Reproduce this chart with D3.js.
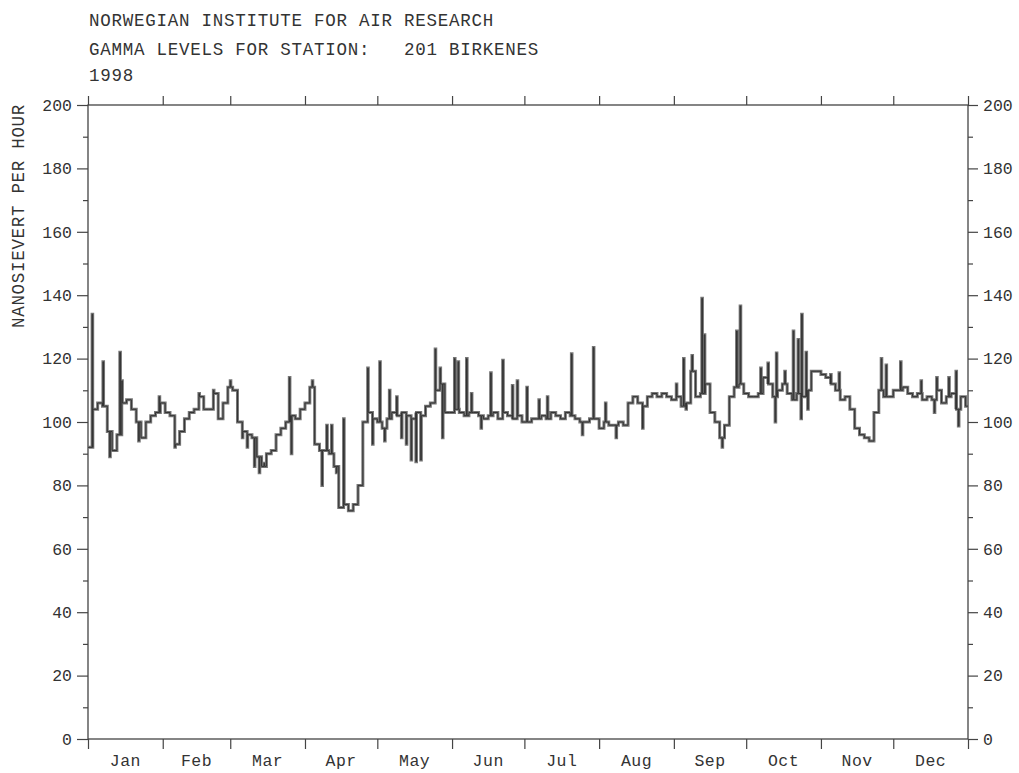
<!DOCTYPE html>
<html><head><meta charset="utf-8">
<script src="https://cdn.jsdelivr.net/npm/d3@7"></script>
<style>
html,body{margin:0;padding:0;background:#fff;}
svg text{font-family:"Courier New","Liberation Mono",monospace;fill:#333;}
</style></head>
<body><svg id="c" width="1019" height="773"></svg>
<script>
const titleLines = ["NORWEGIAN INSTITUTE FOR AIR RESEARCH", "GAMMA LEVELS FOR STATION:   201 BIRKENES", "1998"];
const yLabel = "NANOSIEVERT PER HOUR";
const months = ["Jan","Feb","Mar","Apr","May","Jun","Jul","Aug","Sep","Oct","Nov","Dec"];
const monthStarts = [0,31,59,90,120,151,181,212,243,273,304,334,365];
const yTicks = [0,20,40,60,80,100,120,140,160,180,200];
const yMinorTicks = [10,30,50,70,90,110,130,150,170,190];
// base level every 2 days (day = index*2)
const baseValues = [
 92,104,106,105,97,91,96,106,107,104,100,95,100,102,103,106,103,102,93,97,
 101,103,104,108,104,104,109,101,106,111,110,100,97,96,95,89,86,90,91,96,
 98,100,102,101,104,106,111,93,91,91,90,86,73,74,72,74,80,100,103,101,
 100,98,101,103,102,103,102,101,103,102,105,106,110,112,103,103,104,103,102,103,
 103,102,101,102,103,101,103,102,101,102,100,100,101,101,102,101,103,102,101,103,
 102,101,100,100,101,101,98,100,99,99,100,99,106,108,106,105,108,109,108,109,
 108,107,108,105,106,116,108,109,112,103,100,95,99,108,111,112,109,108,108,109,
 114,112,108,110,112,109,107,109,108,110,116,116,115,114,112,110,107,108,104,98,
 96,95,94,103,110,108,108,110,110,111,109,108,109,107,108,107,110,106,108,109,
 104,108,105
];
// short excursions: day and value
const spikeDays = [1.7,6.2,9,13.2,14,21,29.5,36,46,52,59,64,66,69,71,73,83.5,84.3,93,97,99,101,103,106,
 116,118,121,123,125,128,130,132,134,136,138,144,146,147,152,153.5,157,159,163,167,172,176,178,182,
 187,190.5,200.5,205,209.6,214.6,219,230,244,247,248,250.5,254.6,255.6,263,269,270.5,279,282,285,285.5,
 289,292.5,294.5,295.7,296,297.8,298.5,308,311.5,329,331,337,345.5,351,352,357,360,361];
const spikeValues = [134,119,89,122,113,94,108,92,109,110,113,95,92,86,84,87,114,90,113,80,99,99,84,101,
 117,93,119,94,110,108,95,93,88,87.5,88,123,117,95,120,119,120,109,98,115.5,119.5,111.5,113,111,
 107,108,121.5,96,123.5,106,95,98,112,120,104,121,139,127.5,92,128.7,136.6,117,118.6,100,121.8,
 116,128.7,126,101,134,122,104,115,115.5,120,118,119,113,103,114,114,116,98.7];

const svg = d3.select("#c");
const x = d3.scaleLinear().domain([0,365]).range([88,968]);
const y = d3.scaleLinear().domain([0,200]).range([739,105]);
const axisColor = "#444";

// titles
svg.selectAll("text.title").data(titleLines).join("text")
  .attr("class","title").attr("x",89).attr("y",(d,i)=>[26,55,81][i])
  .attr("font-size","17.5px").attr("letter-spacing","0.75px").style("white-space","pre").text(d=>d);

// y label
svg.append("text").attr("transform","translate(24,216) rotate(-90)")
  .attr("text-anchor","middle").attr("font-size","17.5px").attr("letter-spacing","0.7px").text(yLabel);

// frame
const g = svg.append("g");
g.append("rect").attr("x",x(0)).attr("y",y(200)).attr("width",x(365)-x(0)).attr("height",y(0)-y(200))
  .attr("fill","none").attr("stroke",axisColor).attr("stroke-width",1.3);

// left axis
const leftAxis = g.append("g").attr("transform",`translate(${x(0)},0)`)
  .call(d3.axisLeft(y).tickValues(yTicks).tickSize(11).tickPadding(5).tickFormat(d3.format("d")));
leftAxis.append("g").call(d3.axisLeft(y).tickValues(yMinorTicks).tickSize(5).tickFormat(""));
// right axis
const rightAxis = g.append("g").attr("transform",`translate(${x(365)},0)`)
  .call(d3.axisRight(y).tickValues(yTicks).tickSize(10).tickPadding(5).tickFormat(d3.format("d")));
rightAxis.append("g").call(d3.axisRight(y).tickValues(yMinorTicks).tickSize(5).tickFormat(""));
// bottom / top axes: month boundaries
g.append("g").attr("transform",`translate(0,${y(0)})`)
  .call(d3.axisBottom(x).tickValues(monthStarts).tickSize(10).tickFormat(""));
g.append("g").attr("transform",`translate(0,${y(200)})`)
  .call(d3.axisTop(x).tickValues(monthStarts).tickSize(9).tickFormat(""));
g.selectAll(".domain").remove();
g.selectAll(".tick line").attr("stroke",axisColor).attr("stroke-width",1.2);
g.selectAll(".tick text").attr("font-size","16.5px").attr("fill","#333")
  .style("font-family",'"Courier New","Liberation Mono",monospace');

// month labels
const mids = months.map((m,i)=>({m, d:(monthStarts[i]+monthStarts[i+1])/2}));
g.selectAll("text.month").data(mids).join("text").attr("class","month")
  .attr("x",d=>x(d.d)).attr("y",766).attr("text-anchor","middle").attr("font-size","16.5px")
  .attr("letter-spacing","0.5px").text(d=>d.m);

// build series points: step between base samples, with spikes inserted
const pts = [];
let si = 0;
for (let i=0;i<baseValues.length;i++){
  const d0 = i*2, d1 = Math.min(i*2+2, 365), v = baseValues[i];
  pts.push([d0, v]);
  while (si < spikeDays.length && spikeDays[si] < d1){
    const sd = spikeDays[si];
    pts.push([sd, v],[sd, spikeValues[si]],[sd+0.25, spikeValues[si]],[sd+0.25, v]);
    si++;
  }
  pts.push([d1, v]);
}
const line = d3.line().x(d=>x(d[0])).y(d=>y(d[1]));
svg.append("path").datum(pts).attr("d",line).attr("fill","none")
  .attr("stroke","#777").attr("stroke-width",3).attr("stroke-linejoin","miter");
svg.append("path").datum(pts).attr("d",line).attr("fill","none")
  .attr("stroke","#333").attr("stroke-width",1);
</script></body></html>
